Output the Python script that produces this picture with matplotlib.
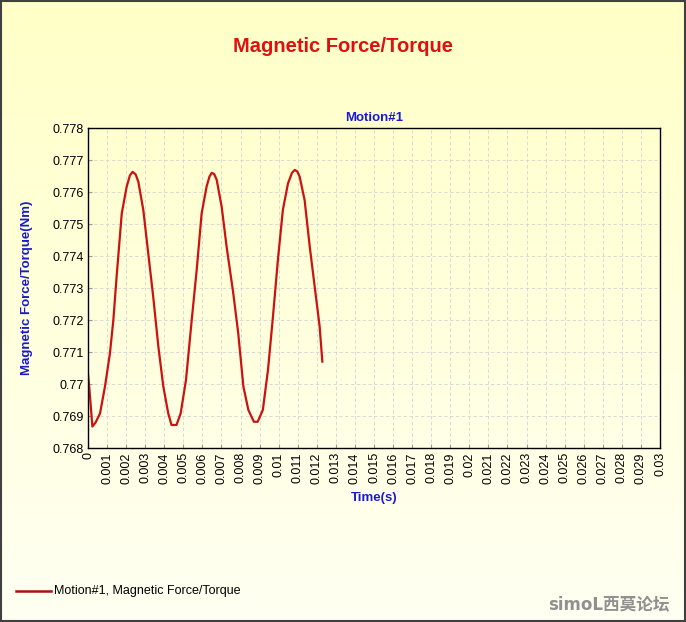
"""Magnetic force/torque vs time for Motion#1."""

import numpy as np
from matplotlib import pyplot as plt
from matplotlib.lines import Line2D
from matplotlib.patches import Rectangle

# values
time_s = [
    0.0, 0.00008, 0.00023, 0.00040, 0.00063, 0.00089, 0.00115, 0.00133, 0.00150,
    0.00177, 0.00203, 0.00220, 0.00234, 0.00250, 0.00264, 0.00290, 0.00316,
    0.00342, 0.00369, 0.00395, 0.00421, 0.00438, 0.00464, 0.00486, 0.00514,
    0.00544, 0.00570, 0.00596, 0.00622, 0.00637, 0.00649, 0.00662, 0.00675,
    0.00701, 0.00727, 0.00762, 0.00788, 0.00815, 0.00841, 0.00870, 0.00890,
    0.00917, 0.00944, 0.00970, 0.00996, 0.01022, 0.01049, 0.01070, 0.01084,
    0.01098, 0.01110, 0.01136, 0.01163, 0.01189, 0.01215, 0.01229,
]
torque_nm = [
    0.77031, 0.76980, 0.76867, 0.76880, 0.76908, 0.76992, 0.77096, 0.77200, 0.77335,
    0.77533, 0.77617, 0.77652, 0.77663, 0.77655, 0.77632, 0.77544, 0.77408,
    0.77273, 0.77117, 0.76992, 0.76908, 0.76872, 0.76872, 0.76908, 0.77013,
    0.77200, 0.77356, 0.77533, 0.77617, 0.77648, 0.77660, 0.77656, 0.77638,
    0.77554, 0.77429, 0.77283, 0.77158, 0.76992, 0.76919, 0.76882, 0.76882,
    0.76919, 0.77044, 0.77210, 0.77388, 0.77544, 0.77627, 0.77660, 0.77669,
    0.77664, 0.77648, 0.77575, 0.77429, 0.77304, 0.77179, 0.77070,
]
x_ticks = [round(0.001 * i, 3) for i in range(31)]
y_ticks = [round(0.768 + 0.001 * i, 3) for i in range(11)]


def fmt(value: float) -> str:
    return f"{value:.3f}".rstrip("0").rstrip(".")


plt.rcParams["font.family"] = ["Liberation Sans", "DejaVu Sans"]

fig = plt.figure(figsize=(6.86, 6.22), dpi=100)

# background gradient: pale yellow at top fading to near white
bg = fig.add_axes([0, 0, 1, 1], zorder=-10)
gradient = np.linspace(0, 1, 256).reshape(-1, 1)
top = np.array([1.0, 1.0, 0.78])
bottom = np.array([1.0, 1.0, 0.95])
colors = top[None, None, :] * (1 - gradient[:, :, None]) + bottom[None, None, :] * gradient[:, :, None]
bg.imshow(colors, aspect="auto", extent=[0, 1, 0, 1])
bg.set_axis_off()
fig.add_artist(Rectangle((0.001, 0.001), 0.998, 0.997, transform=fig.transFigure,
                         fill=False, edgecolor="#404040", linewidth=1.5))

ax = fig.add_axes([88 / 686, 1 - 448 / 622, 572 / 686, 320 / 622])
ax.patch.set_alpha(0)
ax.plot(time_s, torque_nm, color="#cc1111", linewidth=1.6)
ax.set_xlim(0, 0.03)
ax.set_ylim(0.768, 0.778)
ax.set_xticks(x_ticks)
ax.set_xticklabels([fmt(v) for v in x_ticks], rotation=90, fontsize=9)
ax.set_yticks(y_ticks)
ax.set_yticklabels([fmt(v) for v in y_ticks], fontsize=9)
ax.tick_params(direction="in", length=3, color="#999999", pad=3)
ax.grid(True, color="#d4d4d4", linestyle=(0, (4, 3)), linewidth=0.6)
for spine in ax.spines.values():
    spine.set_linewidth(1.0)
    spine.set_color("black")

ax.set_title("Motion#1", color="#1a1acc", fontsize=9.5, fontweight="bold", pad=5)
ax.set_xlabel("Time(s)", color="#1a1acc", fontsize=9.5, fontweight="bold", labelpad=6)
ax.set_ylabel("Magnetic Force/Torque(Nm)", color="#1a1acc", fontsize=9.5,
              fontweight="bold", labelpad=14)

fig.text(343 / 686, 1 - 46 / 622, "Magnetic Force/Torque", color="#dd1111",
         fontsize=14.5, fontweight="bold", ha="center", va="center")

fig.add_artist(Line2D([16 / 686, 51 / 686], [1 - 591 / 622] * 2, color="#aa1111",
                      linewidth=1.8, transform=fig.transFigure))
fig.text(54 / 686, 1 - 591 / 622, "Motion#1, Magnetic Force/Torque", fontsize=9,
         ha="left", va="center")
fig.text(670 / 686, 1 - 604 / 622, "simoL西莫论坛", color="#909090", fontsize=12,
         fontweight="bold", ha="right", va="center",
         family=["DejaVu Sans", "Noto Sans CJK SC"])

fig.savefig("out.png", dpi=100)
